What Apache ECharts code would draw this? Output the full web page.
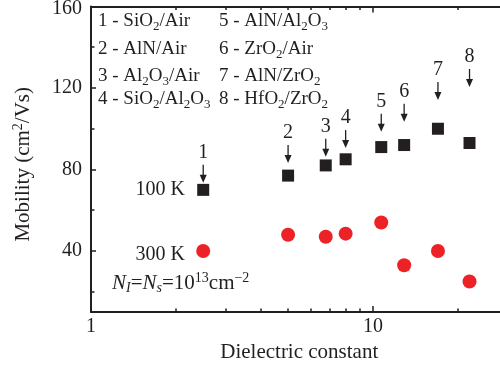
<!DOCTYPE html>
<html><head><meta charset="utf-8">
<script src="https://cdn.jsdelivr.net/npm/echarts@6/dist/echarts.min.js"></script>
<style>html,body{margin:0;padding:0;background:#fff}#c{width:500px;height:367px}</style>
</head><body><div id="c"></div>
<script>
const dielectric = [2.5, 5, 6.8, 8, 10.7, 12.9, 17, 22];
const mobility100K = [70, 77, 82, 85, 91, 92, 100, 93];
const mobility300K = [40, 48, 47, 48.5, 54, 33, 40, 25];
const sampleIds = ['1', '2', '3', '4', '5', '6', '7', '8'];
const arrowTip = [73.5, 83.2, 86.3, 90.5, 98.5, 103.4, 114.1, 120.5];
const yTicks = [40, 80, 120, 160];
const yMinorTicks = [20, 60, 100, 140];
const xTicks = [1, 10];
const xMinorTicks = [2, 3, 4, 5, 6, 7, 8, 9, 20];
const legendCol1 = ['1 - SiO{s|2}/Air', '2 - AlN/Air', '3 - Al{s|2}O{s|3}/Air', '4 - SiO{s|2}/Al{s|2}O{s|3}'];
const legendCol2 = ['5 - AlN/Al{s|2}O{s|3}', '6 - ZrO{s|2}/Air', '7 - AlN/ZrO{s|2}', '8 - HfO{s|2}/ZrO{s|2}'];
const seriesLabels = ['100 K', '300 K'];
const densityNote = '{i|N}{isub|I}={i|N}{isub|s}=10{sup|13}cm{sup|\u22122}';
const xTitle = 'Dielectric constant';
const yTitle = 'Mobility (cm{sup|2}/Vs)';

const FONT = '"Liberation Serif", "Times New Roman", serif';
const INK = '#231f20';
const RED = '#ec2227';

const chart = echarts.init(document.getElementById('c'), null, {renderer: 'canvas'});

function xAxisDef(pos, ticks, len, showLine, showLabel, extra) {
  return Object.assign({
    type: 'log', logBase: 10, min: 1, max: 30, position: pos, gridIndex: 0,
    axisLine: {show: showLine, onZero: false, lineStyle: {color: INK, width: 2}},
    axisTick: {show: true, inside: true, length: len, customValues: ticks, lineStyle: {color: INK, width: 1.5}},
    axisLabel: {show: showLabel, customValues: ticks, color: INK, fontFamily: FONT, fontSize: 20, margin: 5},
    splitLine: {show: false}, minorTick: {show: false}, minorSplitLine: {show: false}
  }, extra || {});
}
function yAxisDef(ticks, len, showLine, showLabel, extra) {
  return Object.assign({
    type: 'value', min: 10, max: 160, position: 'left', gridIndex: 0,
    axisLine: {show: showLine, onZero: false, lineStyle: {color: INK, width: 2}},
    axisTick: {show: true, inside: true, length: len, customValues: ticks, lineStyle: {color: INK, width: 1.5}},
    axisLabel: {
      show: showLabel, customValues: ticks, color: INK, fontFamily: FONT, fontSize: 20, margin: 9,
      formatter: function (v) { return v === ticks[ticks.length - 1] ? '{t|' + v + '}' : String(v); },
      rich: {t: {fontFamily: FONT, fontSize: 20, color: INK, padding: [4, 0, 0, 0]}}
    },
    splitLine: {show: false}
  }, extra || {});
}

const richBase = {
  s: {fontFamily: FONT, fontSize: 13, lineHeight: 13, verticalAlign: 'bottom', color: INK},
  sup: {fontFamily: FONT, fontSize: 14, lineHeight: 14, verticalAlign: 'top', color: INK},
  i: {fontFamily: FONT, fontSize: 21, fontStyle: 'italic', lineHeight: 24, color: INK},
  isub: {fontFamily: FONT, fontSize: 14, fontStyle: 'italic', lineHeight: 14, verticalAlign: 'bottom', color: INK}
};

function legendText(str, x, y) {
  return {
    type: 'text', left: x, top: y - 12, silent: true,
    style: {text: str, fontFamily: FONT, fontSize: 19, lineHeight: 24, fill: INK, rich: richBase}
  };
}
const rowsY = [21, 49, 76, 99];
const graphics = [];
legendCol1.forEach((t, i) => graphics.push(legendText(t, 98, rowsY[i])));
legendCol2.forEach((t, i) => graphics.push(legendText(t, 219, rowsY[i])));
graphics.push({type: 'text', x: 185, y: 190, silent: true,
  style: {text: seriesLabels[0], fontFamily: FONT, fontSize: 20, fill: INK, align: 'right', verticalAlign: 'middle'}});
graphics.push({type: 'text', x: 185, y: 255, silent: true,
  style: {text: seriesLabels[1], fontFamily: FONT, fontSize: 20, fill: INK, align: 'right', verticalAlign: 'middle'}});
graphics.push({type: 'text', x: 112, y: 283, silent: true,
  style: {text: densityNote, fontFamily: FONT, fontSize: 21, lineHeight: 24, fill: INK, align: 'left', verticalAlign: 'middle', rich: richBase}});

const option = {
  animation: false,
  backgroundColor: '#fff',
  grid: {left: 91, top: 6.5, width: 416.5, height: 305.6, containLabel: false, outerBoundsMode: 'none'},
  xAxis: [
    xAxisDef('bottom', xTicks, 6, true, true, {
      name: xTitle, nameLocation: 'middle', nameGap: 28,
      nameTextStyle: {color: INK, fontFamily: FONT, fontSize: 21}
    }),
    xAxisDef('bottom', xMinorTicks, 3.5, false, false),
    xAxisDef('top', xTicks, 6, true, false),
    xAxisDef('top', xMinorTicks, 3.5, false, false)
  ],
  yAxis: [
    yAxisDef(yTicks, 5, true, true, {
      name: yTitle, nameLocation: 'middle', nameGap: 56,
      nameTextStyle: {color: INK, fontFamily: FONT, fontSize: 21, lineHeight: 24, rich: richBase, padding: [0, 0, 0, -10]}
    }),
    yAxisDef(yMinorTicks, 3.5, false, false)
  ],
  graphic: graphics,
  series: [
    {
      name: seriesLabels[0], type: 'scatter', xAxisIndex: 0, yAxisIndex: 0,
      symbol: 'rect', symbolSize: 12, itemStyle: {color: INK, opacity: 1},
      data: dielectric.map((x, i) => [x, mobility100K[i]]), z: 4
    },
    {
      name: seriesLabels[1], type: 'scatter', xAxisIndex: 0, yAxisIndex: 0,
      symbol: 'circle', symbolSize: 14, itemStyle: {color: RED, opacity: 1},
      data: dielectric.map((x, i) => [x, mobility300K[i]]), z: 4
    },
    {
      type: 'custom', xAxisIndex: 0, yAxisIndex: 0, silent: true, z: 3,
      data: dielectric.map((x, i) => [x, arrowTip[i]]),
      renderItem: function (params, api) {
        const p = api.coord([api.value(0), api.value(1)]);
        const x = p[0], y = p[1];
        return {type: 'group', children: [
          {type: 'line', shape: {x1: x, y1: y - 18, x2: x, y2: y - 5}, style: {stroke: INK, lineWidth: 1.3}},
          {type: 'polygon', shape: {points: [[x - 3.5, y - 8], [x + 3.5, y - 8], [x, y]]}, style: {fill: INK}},
          {type: 'text', x: x, y: y - 30, style: {text: sampleIds[params.dataIndex], fontFamily: FONT, fontSize: 20, fill: INK, align: 'center', verticalAlign: 'middle'}}
        ]};
      }
    }
  ]
};
chart.setOption(option);
</script>
</body></html>
